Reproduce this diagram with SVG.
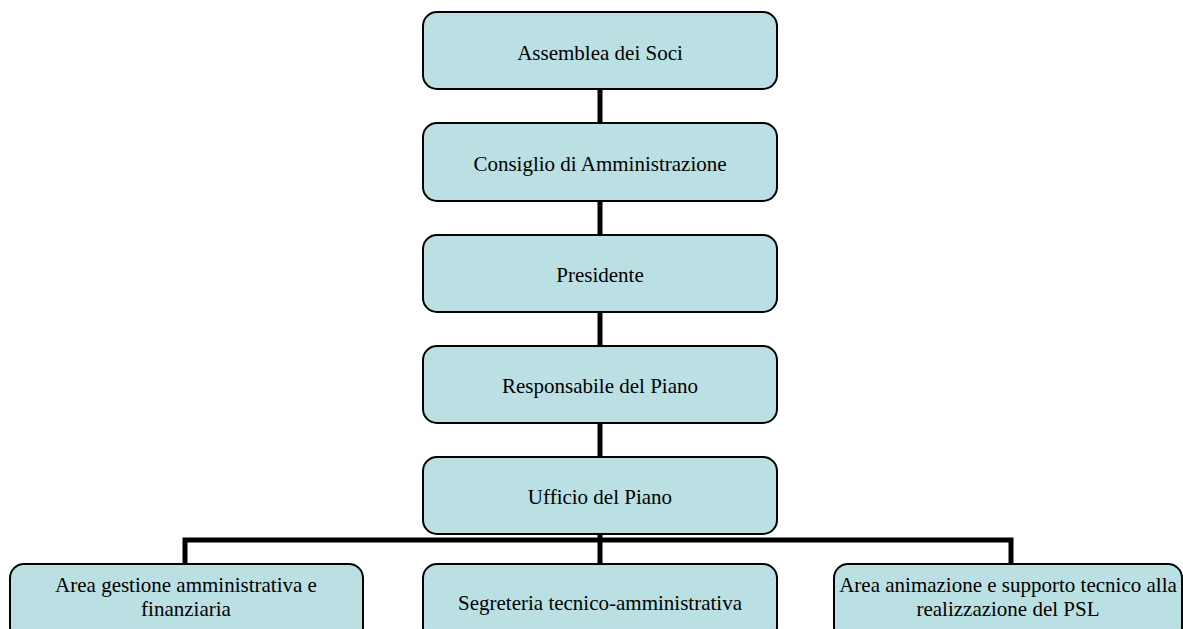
<svg xmlns="http://www.w3.org/2000/svg" width="1183" height="629" viewBox="0 0 1183 629">
<style>
.box{fill:#bbe0e3;stroke:#000;stroke-width:2}
.t{font-family:"Liberation Serif","Times New Roman",serif;font-size:21px;fill:#000;text-anchor:middle}
.c{fill:none;stroke:#000;stroke-width:5}
</style>
<rect width="1183" height="629" fill="#fff"/>
<g id="connectors">
<line class="c" x1="600" y1="89" x2="600" y2="123"/>
<line class="c" x1="600" y1="201" x2="600" y2="235"/>
<line class="c" x1="600" y1="312" x2="600" y2="346"/>
<line class="c" x1="600" y1="423" x2="600" y2="457"/>
<line class="c" x1="600" y1="534" x2="600" y2="564"/>
<polyline class="c" points="185,564 185,540 1011,540 1011,564"/>
</g>
<g id="n1"><rect class="box" x="423" y="12" width="354" height="77" rx="14"/><text class="t" x="600" y="60">Assemblea dei Soci</text></g>
<g id="n2"><rect class="box" x="423" y="123" width="354" height="78" rx="14"/><text class="t" x="600" y="171">Consiglio di Amministrazione</text></g>
<g id="n3"><rect class="box" x="423" y="235" width="354" height="77" rx="14"/><text class="t" x="600" y="282">Presidente</text></g>
<g id="n4"><rect class="box" x="423" y="346" width="354" height="77" rx="14"/><text class="t" x="600" y="393">Responsabile del Piano</text></g>
<g id="n5"><rect class="box" x="423" y="457" width="354" height="77" rx="14"/><text class="t" x="600" y="504">Ufficio del Piano</text></g>
<g id="n6"><rect class="box" x="10" y="564" width="353" height="77" rx="14"/><text class="t" x="186" y="592">Area gestione amministrativa e</text><text class="t" x="186" y="616">finanziaria</text></g>
<g id="n7"><rect class="box" x="423" y="564" width="354" height="77" rx="14"/><text class="t" x="600" y="610">Segreteria tecnico-amministrativa</text></g>
<g id="n8"><rect class="box" x="834" y="564" width="348" height="77" rx="14"/><text class="t" x="1008" y="592">Area animazione e supporto tecnico alla</text><text class="t" x="1008" y="616">realizzazione del PSL</text></g>
</svg>
